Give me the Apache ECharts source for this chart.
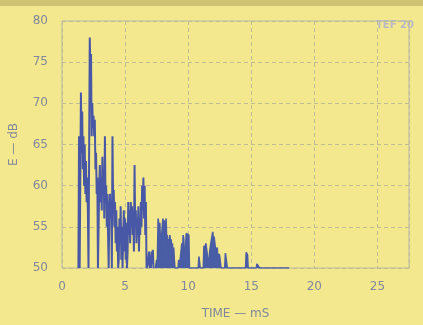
<!DOCTYPE html>
<html>
<head>
<meta charset="utf-8">
<script src="https://cdn.jsdelivr.net/npm/echarts@6/dist/echarts.min.js"></script>
<style>
  html, body { margin: 0; padding: 0; background: #f3e88e; }
  #chart { width: 423px; height: 325px; }
</style>
</head>
<body>
<div id="chart"></div>
<script>
// energy-time trace (ms, dB)
var timeMs = [
  1.30, 1.35, 1.40, 1.45, 1.50, 1.55, 1.60, 1.65, 1.70, 1.75, 1.80, 1.85, 1.90, 1.95, 2.00, 2.05, 2.10, 2.15,
  2.20, 2.25, 2.30, 2.35, 2.40, 2.45, 2.50, 2.55, 2.60, 2.65, 2.70, 2.75, 2.80, 2.85, 2.90, 2.95, 3.00,
  3.05, 3.10, 3.15, 3.20, 3.25, 3.30, 3.35, 3.40, 3.45, 3.50, 3.55, 3.60, 3.65, 3.70, 3.75, 3.80, 3.85,
  3.90, 3.95, 4.00, 4.05, 4.10, 4.15, 4.20, 4.25, 4.30, 4.35, 4.40, 4.45, 4.50, 4.55, 4.60, 4.65, 4.70,
  4.75, 4.80, 4.85, 4.90, 4.95, 5.00, 5.05, 5.10, 5.15, 5.20, 5.25, 5.30, 5.35, 5.40, 5.45, 5.50, 5.55,
  5.60, 5.65, 5.70, 5.75, 5.80, 5.85, 5.90, 5.95, 6.00, 6.05, 6.10, 6.15, 6.20, 6.25, 6.30, 6.35, 6.40,
  6.45, 6.50, 6.55, 6.60, 6.65, 6.70, 6.75, 6.80, 6.90, 6.95, 7.00, 7.05, 7.10, 7.15, 7.20, 7.25, 7.30
];
var energyDb = [
  50, 66, 50, 50, 71.3, 64, 69, 62, 66, 60, 65, 59, 63, 58, 61, 57, 50, 50,
  78, 74, 76, 66, 70, 67, 68.5, 66, 68, 62, 64, 59, 61, 50, 50, 60, 62.5,
  58, 61, 57, 63.5, 59, 62, 56, 66, 58, 60, 55, 59, 54, 50, 57, 59, 56,
  58, 50, 66, 58, 59.5, 55, 58, 53, 57, 52, 55, 50, 51, 56, 53, 57.5, 51,
  55, 50, 54, 57, 52, 56, 51, 55.5, 50, 52, 58, 54, 57, 53, 58, 55, 57.5,
  54, 56, 52, 62.5, 55, 57, 53, 56, 54, 57.5, 52, 56, 54, 58, 55, 60, 57,
  61, 56, 60, 54, 58, 50, 50, 50.5, 52, 50, 51.5, 50, 52, 50.5, 52.2, 50, 50
];

// later, sparser reflections (drawn filled)
var lateTimeMs = [
  7.40, 7.50, 7.55, 7.62, 7.68, 7.75, 7.80, 7.85, 7.90, 7.95, 8.00, 8.05, 8.10, 8.15, 8.20, 8.25, 8.30,
  8.35, 8.40, 8.45, 8.50, 8.55, 8.60, 8.65, 8.70, 8.75, 8.80, 8.85, 8.90, 8.95, 9.20, 9.25, 9.30, 9.45,
  9.50, 9.55, 9.60, 9.65, 9.70, 9.80, 9.85, 9.95, 10.05, 10.10, 10.20, 10.80, 10.85, 10.90, 10.95, 11.20,
  11.25, 11.35, 11.40, 11.50, 11.55, 11.70, 11.75, 11.85, 11.95, 12.00, 12.05, 12.15, 12.20, 12.30, 12.35,
  12.45, 12.50, 12.60, 12.90, 12.95, 13.05, 13.10, 14.55, 14.60, 14.70, 14.75, 15.40, 15.45, 15.60, 15.65,
  18.00
];
var lateDb = [
  50, 51, 50, 56, 55, 55.5, 53, 51, 54, 55, 56, 54, 55.8, 54.5, 53.5, 56, 53,
  54, 52.5, 53.5, 53, 54, 53, 53.5, 52, 53, 51.5, 52.5, 51, 50, 50, 51, 50, 50,
  53, 51, 54, 53.5, 50, 50, 54.2, 54.2, 54, 50, 50, 50, 51.4, 51.2, 50, 50,
  52.7, 52.4, 53, 51.8, 50, 50, 52.5, 53.5, 54.4, 53.2, 53.8, 52.5, 51.9, 52.5, 51,
  51.7, 51.4, 50, 50, 51.8, 51.8, 50, 50, 51.9, 51.6, 50, 50, 50.5, 50.5, 50,
  50
];

var xTicks = [0, 5, 10, 15, 20, 25]
var yTicks = [50, 55, 60, 65, 70, 75, 80]

var early = timeMs.map(function (t, i) { return [t, energyDb[i]] })
var late = lateTimeMs.map(function (t, i) { return [t, lateDb[i]] })

var chart = echarts.init(document.getElementById('chart'))
var labelColor = '#81879c'
var gridLine = { show: true, lineStyle: { color: '#bdbc94', type: [4, 3], width: 1 } }

var option = {
  backgroundColor: '#f3e88e',
  animation: false,
  textStyle: { fontFamily: 'DejaVu Sans' },
  grid: {
    left: 58, right: 14, top: 21, bottom: 53,
    show: true, borderColor: '#b4b8a8', borderWidth: 1
  },
  graphic: [
    { type: 'rect', left: 0, top: 0, shape: { width: 423, height: 6 }, style: { fill: '#cfc273' } },
    { type: 'text', left: 376, top: 20, style: { text: 'TEF 20', fill: '#b9b9c6', font: 'bold 10px DejaVu Sans' } }
  ],
  xAxis: {
    type: 'value',
    min: 0, max: 27.5, interval: 5,
    name: 'TIME — mS',
    nameLocation: 'middle',
    nameGap: 40,
    nameTextStyle: { color: labelColor, fontSize: 12 },
    axisLine: { show: false },
    axisTick: { show: false },
    axisLabel: {
      color: labelColor, fontSize: 12, margin: 13, showMaxLabel: false,
      formatter: function (v) { return xTicks.indexOf(v) >= 0 ? String(v) : '' }
    },
    splitLine: gridLine
  },
  yAxis: {
    type: 'value',
    min: 50, max: 80, interval: 5,
    name: 'E — dB',
    nameLocation: 'middle',
    nameGap: 42,
    nameTextStyle: { color: labelColor, fontSize: 12 },
    axisLine: { show: false },
    axisTick: { show: false },
    axisLabel: {
      color: labelColor, fontSize: 12, margin: 14,
      formatter: function (v) { return yTicks.indexOf(v) >= 0 ? String(v) : '' }
    },
    splitLine: gridLine
  },
  series: [
    {
      name: 'early',
      type: 'line',
      data: early,
      showSymbol: false,
      lineStyle: { color: '#4858a6', width: 2 }
    },
    {
      name: 'late',
      type: 'line',
      data: late,
      showSymbol: false,
      lineStyle: { color: '#4a5ca6', width: 1.6 },
      areaStyle: { color: '#4a5ea6', opacity: 1, origin: 'start' }
    }
  ]
}
chart.setOption(option)
</script>
</body>
</html>
